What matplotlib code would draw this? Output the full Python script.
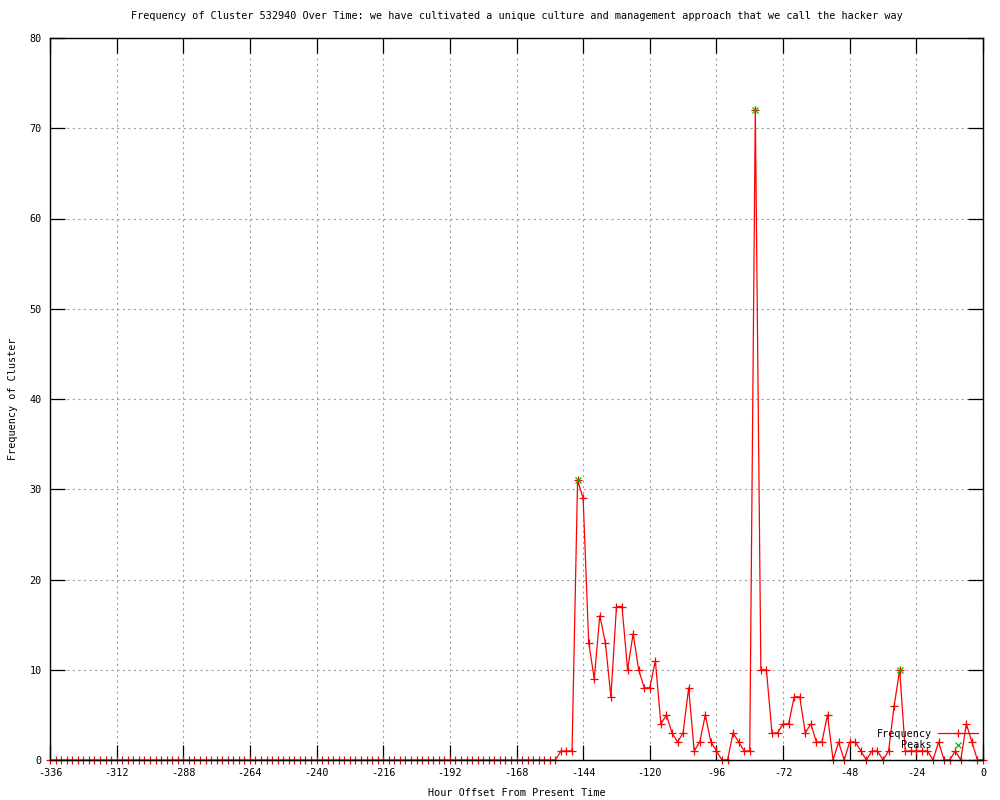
import matplotlib
matplotlib.use("Agg")
import matplotlib.pyplot as plt
import numpy as np

# hours before now, one sample every 2 hours
hours = list(range(-336, 2, 2))
freq = [0] * 92 + [
    1, 1, 1, 31, 29, 13, 9, 16, 13, 7, 17, 17, 10, 14, 10, 8, 8, 11, 4, 5,
    3, 2, 3, 8, 1, 2, 5, 2, 1, 0, 0, 3, 2, 1, 1, 72, 10, 10, 3, 3,
    4, 4, 7, 7, 3, 4, 2, 2, 5, 0, 2, 0, 2, 2, 1, 0, 1, 1, 0, 1,
    6, 10, 1, 1, 1, 1, 1, 0, 2, 0, 0, 1, 0, 4, 2, 0, 0,
]
peak_hours = [-146, -82, -30]
peak_vals = [31, 72, 10]

xticks = list(range(-336, 1, 24))
yticks = list(range(0, 81, 10))

fs = 7.3
plt.rcParams['font.family'] = ['DejaVu Sans Mono']
plt.rcParams['font.size'] = fs
plt.rcParams['axes.unicode_minus'] = False

fig = plt.figure(figsize=(10, 8), dpi=100)
ax = fig.add_axes([0.05, 0.05, 0.933, 0.9025])

ax.plot(hours, freq, '-', color='red', marker='+', markersize=5.5,
        markeredgewidth=0.9, linewidth=0.9, label='Frequency',
        clip_on=False, zorder=3)
ax.plot(peak_hours, peak_vals, linestyle='none', marker='x', color='#00c000',
        markersize=5, markeredgewidth=0.9, label='Peaks', zorder=4)

ax.set_xlim(-336, 0)
ax.set_ylim(0, 80)
ax.set_xticks(xticks)
ax.set_yticks(yticks)
ax.tick_params(direction='in', length=11, width=0.9, top=True, right=True,
               labelsize=fs)
ax.tick_params(axis='x', pad=6)
ax.tick_params(axis='y', pad=6)
ax.grid(True, color='#a0a0a0', linestyle=(0, (2, 3)), linewidth=0.8)
for s in ax.spines.values():
    s.set_linewidth(1.0)
    s.set_zorder(5)

ax.set_title('Frequency of Cluster 532940 Over Time: we have cultivated a unique '
             'culture and management approach that we call the hacker way',
             fontsize=fs, pad=14)
ax.set_xlabel('Hour Offset From Present Time', fontsize=fs, labelpad=7)
ax.set_ylabel('Frequency of Cluster', fontsize=fs, labelpad=8)

ax.legend(loc='upper right', bbox_to_anchor=(0.995, 0.043), frameon=False,
          markerfirst=False, numpoints=1, handlelength=4.0, handletextpad=0.6,
          borderpad=0, borderaxespad=0, labelspacing=0.15, fontsize=fs)

fig.savefig('out.png')
